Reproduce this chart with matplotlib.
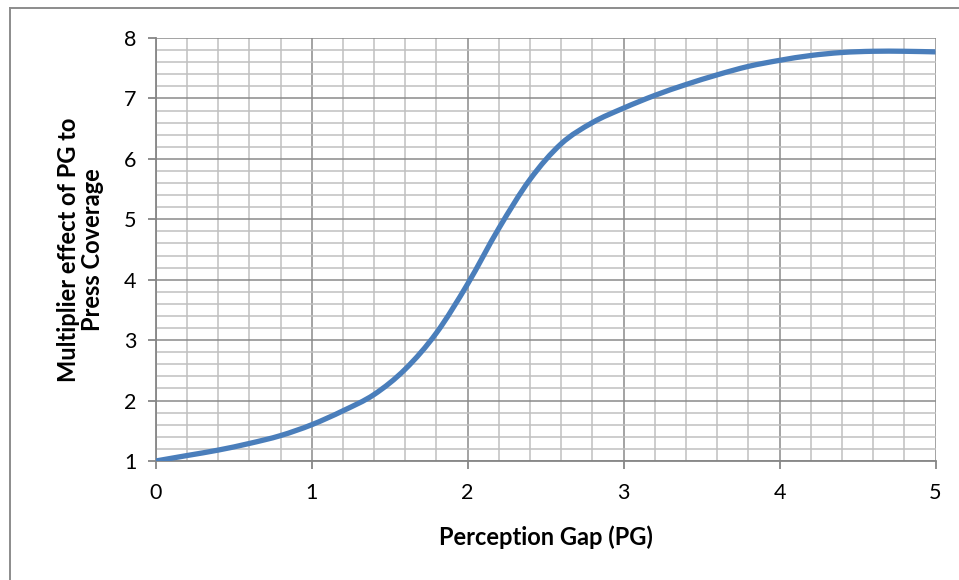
import matplotlib.pyplot as plt
from matplotlib.lines import Line2D
from matplotlib.patches import PathPatch
from matplotlib.path import Path
from matplotlib.ticker import MultipleLocator

# 感知差距 (PG) 与新闻报道乘数效应
pg = [0.0, 0.2, 0.4, 0.6, 0.8, 1.0, 1.2, 1.4, 1.6, 1.8, 2.0, 2.2, 2.4,
      2.6, 2.8, 3.0, 3.2, 3.4, 3.6, 3.8, 4.0, 4.2, 4.4, 4.6, 4.8, 5.0]
multiplier = [1.00, 1.09, 1.18, 1.29, 1.42, 1.60, 1.83, 2.10, 2.52, 3.12,
              3.93, 4.85, 5.66, 6.25, 6.60, 6.84, 7.05, 7.23, 7.39, 7.53,
              7.63, 7.71, 7.76, 7.78, 7.78, 7.77]

x_ticks = [0, 1, 2, 3, 4, 5]
y_ticks = [1, 2, 3, 4, 5, 6, 7, 8]


def smooth_path(xs, ys, tension=1 / 6):
    # Catmull-Rom 曲线转为三次贝塞尔，类似 Excel 的平滑线
    verts = [(xs[0], ys[0])]
    codes = [Path.MOVETO]
    n = len(xs)
    for i in range(n - 1):
        x0, y0 = (xs[i - 1], ys[i - 1]) if i > 0 else (xs[i], ys[i])
        x1, y1 = xs[i], ys[i]
        x2, y2 = xs[i + 1], ys[i + 1]
        x3, y3 = (xs[i + 2], ys[i + 2]) if i + 2 < n else (x2, y2)
        c1 = (x1 + (x2 - x0) * tension, y1 + (y2 - y0) * tension)
        c2 = (x2 - (x3 - x1) * tension, y2 - (y3 - y1) * tension)
        verts += [c1, c2, (x2, y2)]
        codes += [Path.CURVE4] * 3
    return Path(verts, codes)


def main():
    plt.rcParams['font.family'] = ['Lato', 'DejaVu Sans']

    fig = plt.figure(figsize=(9.59, 5.80), dpi=100)
    ax = fig.add_axes([0.1624, 0.2052, 0.8131, 0.7293])

    # 网格：主网格深灰，次网格浅灰
    ax.set_xlim(0, 5)
    ax.set_ylim(1, 8)
    ax.set_xticks(x_ticks)
    ax.set_yticks(y_ticks)
    ax.xaxis.set_minor_locator(MultipleLocator(0.2))
    ax.yaxis.set_minor_locator(MultipleLocator(0.2))
    ax.grid(which='major', color='#8a8a8a', linewidth=1.1)
    ax.grid(which='minor', color='#c0c0c0', linewidth=1.1)
    ax.set_axisbelow(True)

    curve = PathPatch(smooth_path(pg, multiplier), facecolor='none',
                      edgecolor='#4a7ebb', linewidth=3.8, capstyle='butt',
                      joinstyle='round', zorder=3)
    ax.add_patch(curve)

    for side in ['top', 'right']:
        ax.spines[side].set_visible(False)
    for side in ['left', 'bottom']:
        ax.spines[side].set_color('#868686')
        ax.spines[side].set_linewidth(1.3)

    ax.tick_params(which='major', direction='out', length=6, width=1.3,
                   color='#868686', labelsize=15.5, labelcolor='black')
    ax.tick_params(axis='x', pad=10)
    ax.tick_params(axis='y', pad=8)
    ax.tick_params(which='minor', length=0)

    ax.set_xlabel('Perception Gap (PG)', fontsize=17, fontweight='bold',
                  labelpad=16)
    ax.set_ylabel('Multiplier effect of PG to\nPress Coverage', fontsize=17,
                  fontweight='bold', labelpad=14, linespacing=1.05)

    # 图表外框
    fig.add_artist(Line2D([10 / 959, 10 / 959], [0, 1 - 8 / 580],
                          color='#8c8c8c', linewidth=1.4))
    fig.add_artist(Line2D([10 / 959, 1], [1 - 8 / 580, 1 - 8 / 580],
                          color='#8c8c8c', linewidth=1.4))

    plt.savefig('out.png', dpi=100)


if __name__ == '__main__':
    main()
